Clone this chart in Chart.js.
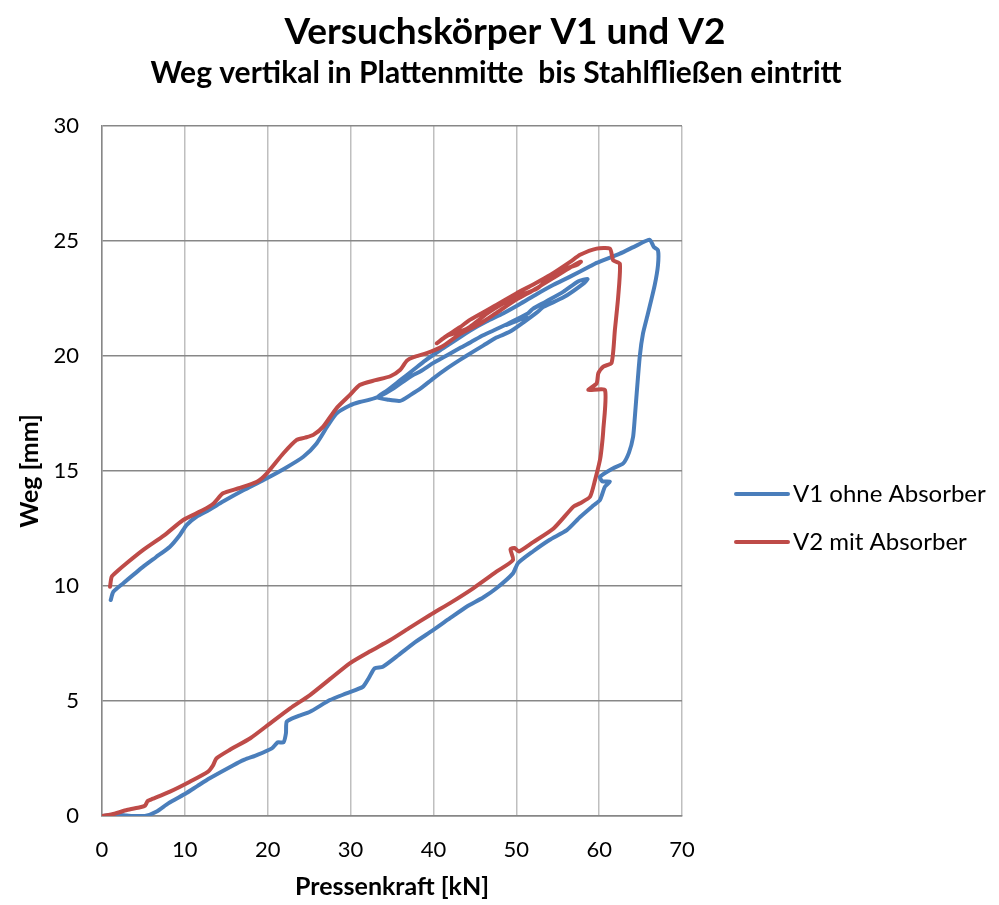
<!DOCTYPE html>
<html>
<head>
<meta charset="utf-8">
<script src="https://cdn.jsdelivr.net/npm/chart.js@4"></script>
<style>
  body { margin: 0; background: #fff; }
  #wrap { width: 999px; height: 905px; }
</style>
</head>
<body>
<div id="wrap"><canvas id="chart" width="999" height="905"></canvas></div>
<script>
// V1 ohne Absorber: Pressenkraft [kN] / Weg [mm]
const v1Kraft = [0, 1.5, 3, 4, 5.2, 6.6, 8, 10.2, 11.5, 13, 15.8, 17.2, 18.7, 20.5, 21.2, 21.9, 22.2, 22.3, 23.5, 25.1, 27.5, 29.5, 31.5, 32.2, 32.9, 33.9, 35.8, 37.6, 40, 42, 44, 46, 47.6, 49.6, 50.2, 52, 54, 56.1, 57.7, 59.3, 60.1, 60.7, 61.3, 60.4, 60.1, 61.7, 62.9, 63.6, 64.1, 64.3, 64.5, 64.9, 65.3, 65.9, 66.7, 67.1, 67.1, 66.6, 66.1,
  64.5, 62.5, 59.7, 58.9, 56.5, 54.5, 52.5, 50.4, 48.4, 46.4, 44.4, 42.5, 40.8, 39, 37.6, 36, 34.4, 33.2,
  34.5, 36, 37.2, 38.5, 40, 41.6, 43.2, 44.8, 46, 47.6, 49.2, 51, 52.5, 53.3, 55.7, 58.1, 58.6,
  57.5, 55.7, 53.5, 52, 51.4, 49.2, 48.8, 50.2, 51.2, 49.6, 47.5, 46, 44.5, 43.2, 41.5, 40, 38.5, 37.2, 35.2, 33.5, 32.3, 31.1, 29.9, 28.3, 27.3, 25.9, 24.3, 22, 19.5, 17, 14.6, 12.9, 11.4, 10.2, 9.4, 8.2, 6.5, 4.98, 2.57, 1.37, 1.05];
const v1Weg = [0, 0.05, 0.02, 0, 0, 0.2, 0.55, 1.0, 1.3, 1.64, 2.2, 2.45, 2.65, 2.94, 3.2, 3.2, 3.6, 4.1, 4.32, 4.53, 5.04, 5.33, 5.62, 6.0, 6.42, 6.49, 7.0, 7.51, 8.09, 8.6, 9.1, 9.5, 9.9, 10.55, 10.99, 11.5, 12.0, 12.43, 13.0, 13.5, 13.74, 14.32, 14.53, 14.55, 14.75, 15.12, 15.33, 15.8, 16.49, 17.3, 18.23, 19.97, 20.99, 21.86, 23.07, 23.94, 24.6, 24.74, 25.05,
  24.8, 24.45, 24.05, 23.9, 23.45, 23.1, 22.7, 22.25, 21.85, 21.5, 21.1, 20.65, 20.25, 19.8, 19.4, 18.95, 18.5, 18.2,
  18.1, 18.05, 18.3, 18.6, 19.03, 19.45, 19.83, 20.19, 20.45, 20.8, 21.05, 21.5, 21.9, 22.14, 22.55, 23.15, 23.35,
  23.25, 22.8, 22.35, 22.05, 21.85, 21.45, 21.35, 21.55, 21.7, 21.5, 21.15, 20.9, 20.6, 20.35, 20.0, 19.7, 19.35, 19.1, 18.6, 18.25, 18.1, 18.0, 17.85, 17.5, 17.0, 16.2, 15.62, 15.1, 14.61, 14.15, 13.67, 13.3, 13.01, 12.65, 12.22, 11.71, 11.25, 10.84, 10.12, 9.75, 9.39];

// V2 mit Absorber
const v2Kraft = [0, 1.5, 3, 4.6, 5.2, 5.5, 5.8, 8.2, 10.6, 12.8, 13.4, 13.8, 15.4, 17.9, 20.3, 22.7, 25.1, 27.5, 29.9, 32.3, 34.8, 37.2, 39.6, 42.2, 44.8, 47.6, 49.6, 49.3, 49.8, 50.3, 52, 54.5, 56.9, 57.7, 58.9, 59.5, 60.1, 60.3, 60.5, 60.7, 58.7, 59.7, 59.9, 60.5, 61.5, 61.9, 62.3, 62.5, 61.7, 61.3,
  59.7, 57.7, 56.5, 54.1, 52, 50, 47, 44.4, 43.2, 41.5, 40.4,
  41.8, 43.5, 44.4, 46.5, 48.5, 50.1, 52.5, 54.9, 57.3, 57.8,
  56.5, 54.5, 52, 50, 47.5, 45.6, 43.2, 41, 39.2, 37.6, 36.8, 36, 34.8, 33, 31.1, 29.9, 28.3, 26.7, 25.5, 24.5, 23.5, 21.9, 19.9, 18.7, 16.5, 14.6, 13.5, 12.2, 9.8, 7.5, 4.98, 3, 1.77, 1.17, 0.97];
const v2Weg = [0, 0.1, 0.26, 0.38, 0.45, 0.65, 0.7, 1.06, 1.49, 1.93, 2.2, 2.5, 2.87, 3.38, 4.03, 4.68, 5.26, 5.95, 6.64, 7.15, 7.65, 8.2, 8.74, 9.3, 9.9, 10.62, 11.13, 11.6, 11.65, 11.5, 11.9, 12.5, 13.45, 13.6, 13.88, 14.6, 15.48, 16.0, 16.78, 18.52, 18.52, 18.81, 19.25, 19.54, 19.7, 21.13, 22.58, 24.01, 24.16, 24.67,
  24.67, 24.4, 24.09, 23.52, 23.1, 22.72, 22.1, 21.57, 21.25, 20.85, 20.55,
  20.9, 21.1, 21.27, 21.85, 22.3, 22.6, 22.93, 23.67, 23.96, 24.1,
  23.85, 23.4, 22.85, 22.45, 21.85, 21.4, 20.95, 20.4, 20.12, 19.95, 19.8, 19.4, 19.12, 18.95, 18.74, 18.3, 17.73, 16.93, 16.57, 16.45, 16.35, 15.77, 14.9, 14.53, 14.25, 14.03, 13.6, 13.3, 12.87, 12.2, 11.57, 11.0, 10.62, 10.4, 9.97];

const seriesNames = ['V1 ohne Absorber', 'V2 mit Absorber'];
const xTicks = [0, 10, 20, 30, 40, 50, 60, 70];
const yTicks = [0, 5, 10, 15, 20, 25, 30];
const chartTitle = 'Versuchskörper V1 und V2';
const chartSubtitle = 'Weg vertikal in Plattenmitte  bis Stahlfließen eintritt';

const blue = '#4A7EBB';
const red = '#BE4B48';
const fontFam = 'Lato, "Open Sans", sans-serif';

const toPoints = (xs, ys) => xs.map((x, i) => ({ x: x, y: ys[i] }));

// titles centred on the whole picture, legend on the right like Excel's
const excelDecor = {
    id: 'excelDecor',
    afterDraw(chart) {
        const ctx = chart.ctx;
        ctx.save();
        ctx.fillStyle = '#000';
        ctx.textAlign = 'center';
        ctx.textBaseline = 'middle';
        ctx.font = 'bold 37px ' + fontFam;
        ctx.fillText(chartTitle, 505, 32);
        ctx.font = 'bold 30px ' + fontFam;
        ctx.fillText(chartSubtitle, 496, 73);
        ctx.restore();

        const rows = [494, 542];
        chart.data.datasets.forEach((ds, i) => {
            const y = rows[i];
            ctx.save();
            ctx.strokeStyle = ds.borderColor;
            ctx.lineWidth = 4;
            ctx.lineCap = 'round';
            ctx.beginPath();
            ctx.moveTo(736, y);
            ctx.lineTo(788, y);
            ctx.stroke();
            ctx.fillStyle = '#000';
            ctx.font = '24px ' + fontFam;
            ctx.textBaseline = 'middle';
            ctx.fillText(ds.label, 793, y);
            ctx.restore();
        });
    }
};

new Chart(document.getElementById('chart'), {
    type: 'scatter',
    data: {
        datasets: [
            {
                label: seriesNames[0],
                data: toPoints(v1Kraft, v1Weg),
                showLine: true,
                tension: 0.2,
                borderColor: blue,
                backgroundColor: blue,
                borderWidth: 4,
                pointRadius: 0,
                borderJoinStyle: 'round',
                borderCapStyle: 'round',
                order: 2
            },
            {
                label: seriesNames[1],
                data: toPoints(v2Kraft, v2Weg),
                showLine: true,
                tension: 0.2,
                borderColor: red,
                backgroundColor: red,
                borderWidth: 4,
                pointRadius: 0,
                borderJoinStyle: 'round',
                borderCapStyle: 'round',
                order: 1
            }
        ]
    },
    options: {
        responsive: false,
        animation: false,
        layout: { padding: { left: 0, right: 317, top: 126, bottom: 0 } },
        scales: {
            x: {
                type: 'linear',
                min: 0,
                max: 70,
                afterBuildTicks: s => { s.ticks = xTicks.map(v => ({ value: v })); },
                afterFit: s => { s.height = 89; },
                ticks: { padding: 21, color: '#000', font: { family: fontFam, size: 22 } },
                grid: { color: '#BFBFBF', lineWidth: 1.5, drawTicks: false },
                border: { color: '#878787', width: 1.5 },
                title: {
                    display: true,
                    text: 'Pressenkraft [kN]',
                    color: '#000',
                    font: { family: fontFam, size: 25, weight: 'bold' },
                    padding: { top: 0, bottom: 3 }
                }
            },
            y: {
                type: 'linear',
                min: 0,
                max: 30,
                afterBuildTicks: s => { s.ticks = yTicks.map(v => ({ value: v })); },
                afterFit: s => { s.width = 102; },
                ticks: { padding: 23, color: '#000', font: { family: fontFam, size: 22 } },
                grid: { color: '#878787', lineWidth: 1.5, drawTicks: false },
                border: { color: '#878787', width: 1.5 },
                title: {
                    display: true,
                    text: 'Weg [mm]',
                    color: '#000',
                    font: { family: fontFam, size: 25, weight: 'bold' },
                    padding: { top: 15, bottom: 0 }
                }
            }
        },
        plugins: {
            legend: { display: false },
            tooltip: { enabled: false },
            title: { display: false },
            subtitle: { display: false }
        }
    },
    plugins: [excelDecor]
});
</script>
</body>
</html>
